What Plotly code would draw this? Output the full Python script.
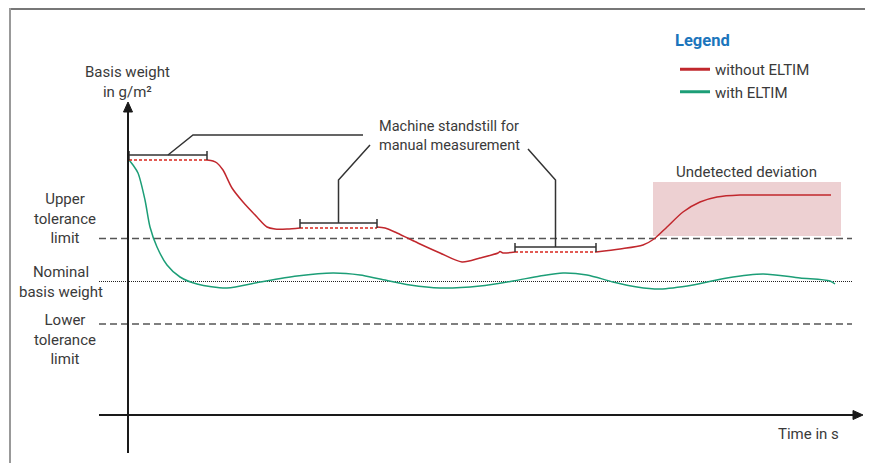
import plotly.graph_objects as go

# ---------------- data (time units, basis-weight units; schematic) ----------------
# curve without ELTIM (three solid pieces separated by standstill periods)
red_t_a = [79, 85, 89, 95, 104, 115, 129, 139, 147, 159, 172]
red_w_a = [255, 254, 252, 245, 227, 213, 198, 188, 186, 186, 187]
red_t_b = [249, 257, 269, 292, 312, 334, 352, 370, 372, 375, 387]
red_w_b = [188, 187, 182, 171, 162, 153, 157, 162, 163.5, 162, 163]
red_t_c = [468, 492, 515, 526, 539, 555, 572, 589, 612, 632, 703]
red_w_c = [163, 166, 170, 176, 188, 203, 213, 218, 220, 220, 220]

# curve with ELTIM
green_t = [1, 5, 10, 17, 22, 29, 39, 52, 69, 99, 132, 169, 205, 232, 252, 282, 312,
           352, 385, 412, 435, 459, 485, 509, 532, 565, 599, 635, 672, 702, 707]
green_w = [255, 250, 242, 215, 188, 168, 150, 138, 131, 127, 133, 139, 142, 140, 136,
           130, 127, 129, 134, 139, 142, 140, 133, 128, 126, 130, 137, 141, 137, 134, 131]

# machine standstills (start, end, level)
stand_start = [1, 172, 387]
stand_end = [79, 249, 468]
stand_level = [255, 187, 163]

# tolerance levels
upper_tol = 176.5
nominal = 133.5
lower_tol = 91

# undetected deviation region
dev_t = [525, 713]
dev_w = [179, 233]

series_names = ["without ELTIM", "with ELTIM"]
legend_title = "Legend"
standstill_text = ["Machine standstill for", "manual measurement"]
deviation_text = "Undetected deviation"
y_title = ["Basis weight", "in g/m²"]
upper_text = ["Upper", "tolerance", "limit"]
nominal_text = ["Nominal", "basis weight"]
lower_text = ["Lower", "tolerance", "limit"]
x_title = "Time in s"

# ---------------- styles ----------------
RED = "#c1272d"
GREEN = "#1c9e77"
TXT = "#3a3a3a"
FONT = "Roboto, Arial, sans-serif"
FS = 15
W, H = 865, 455          # page has an 8px body margin
PX0, PY0 = 128, 415      # page pixel of the axes origin


def px(xp):
    return (xp - 8) / W


def py(yp):
    return 1 - (yp - 8) / H


fig = go.Figure()

# deviation box
fig.add_shape(type="rect", x0=dev_t[0], x1=dev_t[1], y0=dev_w[0], y1=dev_w[1],
              fillcolor="#edd0d2", line_width=0, layer="below")

# tolerance lines
line_x0, line_x1 = -29, 724
for lvl in (upper_tol, lower_tol):
    fig.add_trace(go.Scatter(x=[line_x0, line_x1], y=[lvl, lvl], mode="lines",
                             line=dict(color="#555555", width=1.6, dash="7px,4px"),
                             showlegend=False, hoverinfo="skip"))
fig.add_trace(go.Scatter(x=[line_x0, line_x1], y=[nominal, nominal], mode="lines",
                         line=dict(color="#222222", width=1, dash="1px,1px"),
                         showlegend=False, hoverinfo="skip"))

# red curve pieces
for tt, ww in ((red_t_a, red_w_a), (red_t_b, red_w_b), (red_t_c, red_w_c)):
    fig.add_trace(go.Scatter(x=tt, y=ww, mode="lines",
                             line=dict(color=RED, width=1.5, shape="spline", smoothing=0.8),
                             showlegend=False, hoverinfo="skip"))

# green curve
fig.add_trace(go.Scatter(x=green_t, y=green_w, mode="lines",
                         line=dict(color=GREEN, width=1.5, shape="spline", smoothing=0.8),
                         showlegend=False, hoverinfo="skip"))

# standstill red dashed segments + brackets
for s, e, lv in zip(stand_start, stand_end, stand_level):
    fig.add_trace(go.Scatter(x=[s, e], y=[lv, lv], mode="lines",
                             line=dict(color="#d9261c", width=1.4, dash="3px,2px"),
                             showlegend=False, hoverinfo="skip"))
    fig.add_shape(type="path",
                  path=f"M {s},{lv} L {s},{lv+9} M {s},{lv+5} L {e},{lv+5} M {e},{lv} L {e},{lv+9}",
                  line=dict(color="#333333", width=1.5))

# leader lines
c = [(s + e) / 2 for s, e in zip(stand_start, stand_end)]
fig.add_shape(type="path",
              path=f"M {c[0]},{stand_level[0]+5} L 65,280 L 235,280",
              line=dict(color="#333333", width=1.5))
fig.add_shape(type="path",
              path=f"M {c[1]},{stand_level[1]+5} L {c[1]},235 L 242,270",
              line=dict(color="#333333", width=1.5))
fig.add_shape(type="path",
              path=f"M {c[2]},{stand_level[2]+5} L {c[2]},235 L 400,266",
              line=dict(color="#333333", width=1.5))

# axes with arrows
fig.add_shape(type="line", x0=0, x1=0, y0=-38, y1=304, line=dict(color="#1a1a1a", width=2))
fig.add_shape(type="path", path="M -4.5,303 L 4.5,303 L 0,313 Z",
              fillcolor="#1a1a1a", line=dict(color="#1a1a1a", width=1))
fig.add_shape(type="line", x0=-29, x1=726, y0=0, y1=0, line=dict(color="#1a1a1a", width=2))
fig.add_shape(type="path", path="M 725,-4.5 L 725,4.5 L 735,0 Z",
              fillcolor="#1a1a1a", line=dict(color="#1a1a1a", width=1))

# frame
fig.add_shape(type="line", x0=-118, x1=745, y0=406, y1=406, line=dict(color="#777777", width=2))
fig.add_shape(type="line", x0=-118, x1=-118, y0=-48, y1=407, line=dict(color="#999999", width=2))

# legend entries (thicker sample lines)
for i, (name, col) in enumerate(zip(series_names, (RED, GREEN))):
    fig.add_trace(go.Scatter(x=[None], y=[None], mode="lines", name=name,
                             legendgroup=f"g{i}", line=dict(color=col, width=3)))

# text labels
def label(lines, x, y, xanchor="center", size=FS, color=TXT):
    fig.add_annotation(x=x, y=y, text="<br>".join(lines), showarrow=False,
                       xanchor=xanchor, yanchor="middle", align=xanchor,
                       font=dict(family=FONT, size=size, color=color))

label(y_title, -1, 333.5)
label(upper_text, -63, 196.5)
label(nominal_text, -67.5, 133.5)
label(lower_text, -63, 76)
label(standstill_text, 249, 279.5, "left", 14.5)
label([deviation_text], 618.5, 243)
label([x_title], 713, -19, "right")
label(["<b>" + legend_title + "</b>"], 673 - PX0, PY0 - 40, "left", 16.5, "#1b75bc")

fig.update_layout(
    width=W, height=H,
    margin=dict(l=0, r=0, t=0, b=0),
    paper_bgcolor="white", plot_bgcolor="white",
    xaxis=dict(range=[8 - PX0, 873 - PX0], visible=False, fixedrange=True),
    yaxis=dict(range=[PY0 - 463, PY0 - 8], visible=False, fixedrange=True),
    showlegend=True,
    legend=dict(x=px(675), y=py(53), xanchor="left", yanchor="top",
                bgcolor="rgba(0,0,0,0)", borderwidth=0,
                font=dict(family=FONT, size=15, color=TXT),
                tracegroupgap=0),
)

fig.write_html("out.html")
